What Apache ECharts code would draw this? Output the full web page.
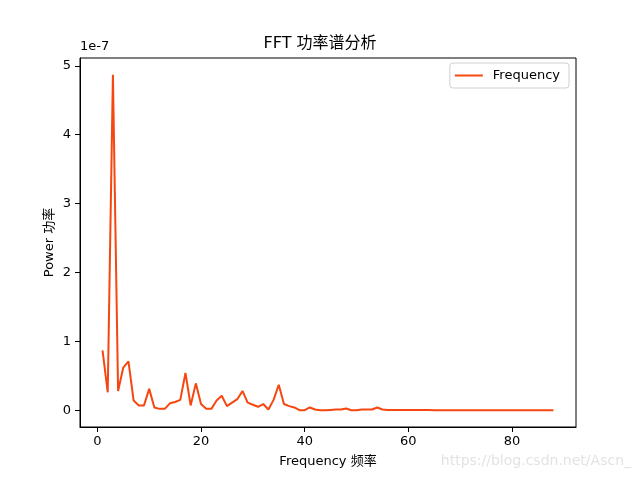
<!DOCTYPE html>
<html>
<head>
<meta charset="utf-8">
<script src="https://cdn.jsdelivr.net/npm/echarts@6/dist/echarts.min.js"></script>
<style>
html,body{margin:0;padding:0;background:#fff;}
#chart{width:640px;height:480px;}
</style>
</head>
<body>
<div id="chart"></div>
<script>
// Power values in units of 1e-7, for frequency bins 1..88
const frequencies = [];
for (let i = 1; i <= 88; i++) frequencies.push(i);
const powerE7 = [
  0.87, 0.26, 4.87, 0.28, 0.62, 0.71, 0.14, 0.07, 0.07, 0.31,
  0.04, 0.02, 0.02, 0.10, 0.12, 0.15, 0.54, 0.07, 0.39, 0.09,
  0.02, 0.02, 0.14, 0.21, 0.06, 0.11, 0.16, 0.28, 0.11, 0.08,
  0.05, 0.09, 0.01, 0.15, 0.37, 0.09, 0.06, 0.04, 0.00, 0.00,
  0.04, 0.01, 0.00, 0.00, 0.005, 0.01, 0.01, 0.025, 0.00, 0.00,
  0.01, 0.01, 0.01, 0.04, 0.01, 0.005, 0.005, 0.003, 0.003, 0.003,
  0.005, 0.002, 0.002, 0.002, 0.001, 0.001, 0.001, 0.001, 0.001, 0.001,
  0.001, 0.001, 0.001, 0.001, 0.001, 0.001, 0.001, 0.001, 0.001, 0.001,
  0.001, 0.001, 0.001, 0.001, 0.001, 0.001, 0.001, 0.001
];
const xTicks = [0, 20, 40, 60, 80];
const yTicks = [0, 1, 2, 3, 4, 5];
const titleText = 'FFT 功率谱分析';
const xLabel = 'Frequency 频率';
const yLabel = 'Power 功率';
const seriesName = 'Frequency';
const offsetText = '1e-7';
const watermark = 'https://blog.csdn.net/Ascn_';

const FONT = '"DejaVu Sans", "Noto Sans CJK SC", sans-serif';
const LINE_COLOR = '#f5470f';
const chart = echarts.init(document.getElementById('chart'), null, {renderer: 'canvas'});
const pairs = frequencies.map((f, i) => [f, powerE7[i]]);

// matplotlib-like 5% margins
const xmin = 1, xmax = 88, xm = (xmax - xmin) * 0.05;
const ymin = 0, ymax = 4.87, ym = (ymax - ymin) * 0.05;

chart.setOption({
  animation: false,
  backgroundColor: '#ffffff',
  title: {
    text: titleText, left: 'center', top: 31,
    textStyle: {fontFamily: FONT, fontSize: 16, fontWeight: 'normal', color: '#000'}
  },
  grid: {left: 80, right: 64, top: 58, bottom: 53, show: true, borderColor: '#000', borderWidth: 1, containLabel: false},
  legend: {
    right: 71, top: 63,
    data: [{name: seriesName, icon: 'path://M0,6 L28,6 L28,8 L0,8 Z'}],
    itemWidth: 28, itemHeight: 14,
    padding: [6, 9, 6, 5],
    borderColor: '#d0d0d0', borderWidth: 1, borderRadius: 3,
    backgroundColor: 'rgba(255,255,255,0.8)',
    itemStyle: {color: LINE_COLOR},
    textStyle: {fontFamily: FONT, fontSize: 13, color: '#000', padding: [0, 0, 0, 5]}
  },
  xAxis: {
    type: 'value', min: xmin - xm, max: xmax + xm,
    name: xLabel, nameLocation: 'middle', nameGap: 28, nameMoveOverlap: false,
    nameTextStyle: {fontFamily: FONT, fontSize: 13, color: '#000'},
    axisLine: {show: true, onZero: false, lineStyle: {color: '#000', width: 1}},
    axisTick: {show: true, length: 5, inside: false, customValues: xTicks, lineStyle: {color: '#000'}},
    axisLabel: {fontFamily: FONT, fontSize: 13, color: '#000', margin: 8, customValues: xTicks},
    splitLine: {show: false}
  },
  yAxis: {
    type: 'value', min: ymin - ym, max: ymax + ym,
    name: yLabel, nameLocation: 'middle', nameGap: 24, nameRotate: 90, nameMoveOverlap: false,
    nameTextStyle: {fontFamily: FONT, fontSize: 13, color: '#000'},
    axisLine: {show: true, onZero: false, lineStyle: {color: '#000', width: 1}},
    axisTick: {show: true, length: 5, customValues: yTicks, lineStyle: {color: '#000'}},
    axisLabel: {fontFamily: FONT, fontSize: 13, color: '#000', margin: 9, customValues: yTicks},
    splitLine: {show: false}
  },
  graphic: [
    {type: 'text', left: 80, top: 40, style: {text: offsetText, font: '13px ' + FONT, fill: '#000'}},
    {type: 'text', right: 9, top: 454, style: {text: watermark, font: '14px ' + FONT, fill: '#e3e3e3'}}
  ],
  series: [{
    name: seriesName, type: 'line', data: pairs,
    symbol: 'none', showSymbol: false,
    lineStyle: {color: LINE_COLOR, width: 2},
    itemStyle: {color: LINE_COLOR}
  }]
});
</script>
</body>
</html>
